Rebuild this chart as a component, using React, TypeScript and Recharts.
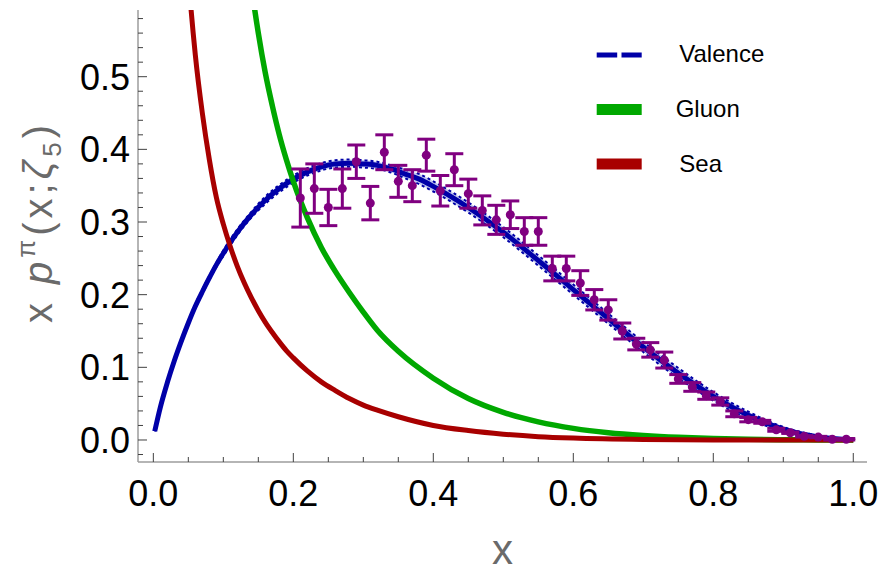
import React from 'react';
import { ComposedChart, Line, Area, Scatter, ErrorBar, XAxis, YAxis, Legend, Label } from 'recharts';

// ---------- data ----------
const valenceX = [0.002, 0.01, 0.02, 0.03, 0.04, 0.05, 0.06, 0.07, 0.08, 0.09, 0.10, 0.12, 0.14, 0.16, 0.18, 0.20, 0.22, 0.24, 0.26, 0.28, 0.30, 0.32, 0.34, 0.36, 0.38, 0.40, 0.42, 0.45, 0.50, 0.55, 0.60, 0.65, 0.70, 0.75, 0.80, 0.85, 0.90, 0.95, 1.0];
const valenceY = [0.012, 0.045, 0.079, 0.109, 0.136, 0.161, 0.184, 0.204, 0.223, 0.241, 0.257, 0.286, 0.310, 0.330, 0.346, 0.359, 0.369, 0.376, 0.380, 0.381, 0.380, 0.378, 0.373, 0.366, 0.359, 0.349, 0.338, 0.320, 0.286, 0.247, 0.207, 0.167, 0.128, 0.092, 0.060, 0.034, 0.015, 0.004, 0];
const valenceHi = [0.012, 0.046, 0.080, 0.111, 0.138, 0.163, 0.187, 0.207, 0.226, 0.244, 0.261, 0.290, 0.314, 0.335, 0.351, 0.364, 0.374, 0.381, 0.385, 0.386, 0.385, 0.383, 0.378, 0.372, 0.366, 0.356, 0.345, 0.327, 0.293, 0.254, 0.214, 0.174, 0.135, 0.099, 0.066, 0.039, 0.018, 0.006, 0];
const valenceLo = [0.012, 0.044, 0.078, 0.107, 0.134, 0.159, 0.181, 0.201, 0.220, 0.238, 0.253, 0.282, 0.306, 0.325, 0.341, 0.354, 0.364, 0.371, 0.375, 0.376, 0.375, 0.373, 0.368, 0.360, 0.352, 0.342, 0.331, 0.313, 0.279, 0.240, 0.200, 0.160, 0.121, 0.085, 0.054, 0.029, 0.012, 0.002, 0];

const gluonX = [0.12, 0.13, 0.14, 0.15, 0.16, 0.17, 0.18, 0.19, 0.20, 0.22, 0.24, 0.26, 0.28, 0.30, 0.32, 0.35, 0.40, 0.45, 0.50, 0.55, 0.60, 0.65, 0.70, 0.75, 0.80, 0.85, 0.90, 0.95, 1.0];
const gluonY = [0.80, 0.70, 0.625, 0.56, 0.505, 0.46, 0.42, 0.386, 0.356, 0.306, 0.265, 0.232, 0.203, 0.176, 0.151, 0.122, 0.085, 0.057, 0.038, 0.025, 0.016, 0.010, 0.0062, 0.0036, 0.0019, 0.0009, 0.0004, 0.0001, 0];

const seaX = [0.03, 0.04, 0.05, 0.06, 0.07, 0.08, 0.09, 0.10, 0.11, 0.12, 0.13, 0.14, 0.15, 0.16, 0.17, 0.18, 0.19, 0.20, 0.22, 0.24, 0.26, 0.28, 0.30, 0.32, 0.35, 0.40, 0.45, 0.50, 0.55, 0.60, 0.70, 0.80, 0.90, 1.0];
const seaY = [1.05, 0.80, 0.64, 0.53, 0.45, 0.386, 0.334, 0.297, 0.266, 0.239, 0.216, 0.196, 0.178, 0.162, 0.148, 0.135, 0.123, 0.113, 0.095, 0.080, 0.068, 0.057, 0.048, 0.041, 0.032, 0.020, 0.013, 0.008, 0.0046, 0.0026, 0.0007, 0.0001, 0, 0];

const pointX = [0.21, 0.23, 0.25, 0.27, 0.29, 0.31, 0.33, 0.35, 0.37, 0.39, 0.41, 0.43, 0.45, 0.47, 0.49, 0.51, 0.53, 0.55, 0.57, 0.59, 0.61, 0.63, 0.65, 0.67, 0.69, 0.71, 0.73, 0.75, 0.77, 0.79, 0.81, 0.83, 0.85, 0.87, 0.89, 0.91, 0.93, 0.95, 0.97, 0.99];
const pointY = [0.333, 0.346, 0.320, 0.346, 0.383, 0.326, 0.396, 0.356, 0.350, 0.392, 0.343, 0.372, 0.339, 0.316, 0.303, 0.310, 0.287, 0.287, 0.236, 0.236, 0.216, 0.193, 0.179, 0.150, 0.132, 0.124, 0.110, 0.084, 0.073, 0.061, 0.053, 0.036, 0.028, 0.025, 0.014, 0.010, 0.005, 0.004, 0.001, 0.001];
const pointErr = [0.040, 0.034, 0.025, 0.027, 0.023, 0.023, 0.024, 0.022, 0.022, 0.022, 0.021, 0.022, 0.020, 0.020, 0.020, 0.019, 0.019, 0.019, 0.017, 0.017, 0.017, 0.014, 0.014, 0.011, 0.008, 0.010, 0.011, 0.006, 0.006, 0.005, 0.005, 0.004, 0.003, 0.002, 0.002, 0.001, 0.001, 0.001, 0.001, 0.001];

const xTicks = [0, 0.05, 0.1, 0.15, 0.2, 0.25, 0.3, 0.35, 0.4, 0.45, 0.5, 0.55, 0.6, 0.65, 0.7, 0.75, 0.8, 0.85, 0.9, 0.95, 1.0];
const xMajor = [0, 0.2, 0.4, 0.6, 0.8, 1.0];
const yTicks = [-0.02, 0, 0.02, 0.04, 0.06, 0.08, 0.1, 0.12, 0.14, 0.16, 0.18, 0.2, 0.22, 0.24, 0.26, 0.28, 0.3, 0.32, 0.34, 0.36, 0.38, 0.4, 0.42, 0.44, 0.46, 0.48, 0.5, 0.52, 0.54, 0.56, 0.58];
const yMajor = [0, 0.1, 0.2, 0.3, 0.4, 0.5];

const seriesNames = ['Valence', 'Gluon', 'Sea'];

// ---------- tables built for the library ----------
const valenceData = valenceX.map((x, i) => ({ x, y: valenceY[i], lo: valenceLo[i], hi: valenceHi[i], band: [valenceLo[i], valenceHi[i]] }));
const gluonData = gluonX.map((x, i) => ({ x, y: gluonY[i] }));
const seaData = seaX.map((x, i) => ({ x, y: seaY[i] }));
const pointData = pointX.map((x, i) => ({ x, y: pointY[i], err: pointErr[i] }));

const BLUE = '#0000a8';
const GREEN = '#00a800';
const RED = '#a80000';
const PURPLE = '#800080';
const FRAME = '#9c9c9c';
const TICKC = '#404040';
const FONT = '"Liberation Sans", Arial, sans-serif';

const isMajor = (v: number, list: number[]) => list.some((m) => Math.abs(m - v) < 1e-9);

const BottomTick = (p: any) => {
  const { x, y, payload } = p;
  const major = isMajor(payload.value, xMajor);
  return (
    <g>
      <line x1={x} x2={x} y1={y} y2={y - (major ? 9 : 5)} stroke={TICKC} strokeWidth={1} />
      {major && (
        <text x={x} y={y + 44} textAnchor="middle" fontSize={36} fontFamily={FONT} fill="#000">
          {payload.value.toFixed(1)}
        </text>
      )}
    </g>
  );
};
const TopTick = (p: any) => {
  const { x, y, payload } = p;
  const major = isMajor(payload.value, xMajor);
  return <line x1={x} x2={x} y1={y} y2={y + (major ? 9 : 5)} stroke={TICKC} strokeWidth={1} />;
};
const LeftTick = (p: any) => {
  const { x, y, payload } = p;
  const major = isMajor(payload.value, yMajor);
  return (
    <g>
      <line x1={x} x2={x + (major ? 9 : 5)} y1={y} y2={y} stroke={TICKC} strokeWidth={1} />
      {major && (
        <text x={x - 8} y={y + 13} textAnchor="end" fontSize={36} fontFamily={FONT} fill="#000">
          {payload.value.toFixed(1)}
        </text>
      )}
    </g>
  );
};
const RightTick = (p: any) => {
  const { x, y, payload } = p;
  const major = isMajor(payload.value, yMajor);
  return <line x1={x} x2={x - (major ? 9 : 5)} y1={y} y2={y} stroke={TICKC} strokeWidth={1} />;
};

const XTitle = () => (
  <text x={502.5} y={564} textAnchor="middle" fontSize={42} fontFamily={FONT} fill="#6a6a6a">x</text>
);
const YTitle = () => (
  <text transform="translate(52, 222) rotate(-90)" textAnchor="middle" fontSize={40} fontFamily={FONT} fill="#6a6a6a" letterSpacing={4}>
    <tspan>x </tspan>
    <tspan fontStyle="italic">p</tspan>
    <tspan fontSize={26} dy={-17}>π</tspan>
    <tspan dy={17}>(x;</tspan>
    <tspan fontStyle="italic">ζ</tspan>
    <tspan fontSize={26} dy={9}>5</tspan>
    <tspan dy={-9}>)</tspan>
  </text>
);

const LegendBox = () => (
  <svg width={200} height={150} style={{ display: 'block' }}>
    <line x1={6.7} x2={51.7} y1={20} y2={20} stroke={BLUE} strokeWidth={5} strokeDasharray="20.5 4.3" />
    <line x1={6.7} x2={51.7} y1={74.5} y2={74.5} stroke={GREEN} strokeWidth={11} />
    <line x1={6.7} x2={51.7} y1={129} y2={129} stroke={RED} strokeWidth={11} />
    <text x={89.3} y={27} fontSize={24} fontFamily={FONT} fill="#000">{seriesNames[0]}</text>
    <text x={85.7} y={82} fontSize={24} fontFamily={FONT} fill="#000">{seriesNames[1]}</text>
    <text x={89.3} y={136.5} fontSize={24} fontFamily={FONT} fill="#000">{seriesNames[2]}</text>
  </svg>
);

const Dot = (p: any) => <circle cx={p.cx} cy={p.cy} r={4.5} fill={PURPLE} />;

export default function App() {
  return (
    <div style={{ position: 'absolute', left: 0, top: 0, width: 884, height: 572, background: '#fff' }}>
      <ComposedChart width={884} height={572} margin={{ top: 10, right: 17, bottom: 0, left: 0 }}>
        <XAxis xAxisId="b" dataKey="x" type="number" domain={[-0.0219, 1.0196]} allowDataOverflow ticks={xTicks} interval={0}
          height={110} tickSize={0} tickMargin={0} tickLine={false} axisLine={{ stroke: FRAME, strokeWidth: 1.5 }} tick={(p: any) => <BottomTick {...p} />}>
          <Label content={XTitle} />
        </XAxis>
        <XAxis xAxisId="t" orientation="top" dataKey="x" type="number" domain={[-0.0219, 1.0196]} allowDataOverflow ticks={xTicks} interval={0}
          height={0} tickSize={0} tickMargin={0} tickLine={false} axisLine={{ stroke: FRAME, strokeWidth: 1.5 }} tick={(p: any) => <TopTick {...p} />} />
        <YAxis yAxisId="l" type="number" domain={[-0.0303, 0.5918]} allowDataOverflow ticks={yTicks} interval={0}
          width={138} tickSize={0} tickMargin={0} tickLine={false} axisLine={{ stroke: FRAME, strokeWidth: 1.5 }} tick={(p: any) => <LeftTick {...p} />}>
          <Label content={YTitle} />
        </YAxis>
        <YAxis yAxisId="r" orientation="right" type="number" domain={[-0.0303, 0.5918]} allowDataOverflow ticks={yTicks} interval={0}
          width={0} tickSize={0} tickMargin={0} tickLine={false} axisLine={{ stroke: FRAME, strokeWidth: 1.5 }} tick={(p: any) => <RightTick {...p} />} />

        <Area xAxisId="b" yAxisId="l" data={valenceData} dataKey="band" type="monotone" stroke="none" fill="#c3c9ef" fillOpacity={1} isAnimationActive={false} activeDot={false} />
        <Line xAxisId="b" yAxisId="l" data={valenceData} dataKey="hi" type="monotone" stroke={BLUE} strokeWidth={2} strokeDasharray="3 3" dot={false} activeDot={false} isAnimationActive={false} />
        <Line xAxisId="b" yAxisId="l" data={valenceData} dataKey="lo" type="monotone" stroke={BLUE} strokeWidth={2} strokeDasharray="3 3" dot={false} activeDot={false} isAnimationActive={false} />
        <Line xAxisId="b" yAxisId="l" data={valenceData} dataKey="y" type="monotone" stroke={BLUE} strokeWidth={5} dot={false} activeDot={false} isAnimationActive={false} />
        <Line xAxisId="b" yAxisId="l" data={gluonData} dataKey="y" type="monotone" stroke={GREEN} strokeWidth={5.5} dot={false} activeDot={false} isAnimationActive={false} />
        <Line xAxisId="b" yAxisId="l" data={seaData} dataKey="y" type="monotone" stroke={RED} strokeWidth={5} dot={false} activeDot={false} isAnimationActive={false} />
        <Scatter xAxisId="b" yAxisId="l" data={pointData} dataKey="y" fill={PURPLE} shape={Dot} isAnimationActive={false}>
          <ErrorBar dataKey="err" direction="y" width={9} strokeWidth={3} stroke={PURPLE} isAnimationActive={false} />
        </Scatter>
        <Legend layout="vertical" align="center" verticalAlign="middle" content={LegendBox}
          wrapperStyle={{ position: 'absolute', left: 590, top: 35, width: 200, height: 150 }} />
      </ComposedChart>
    </div>
  );
}
